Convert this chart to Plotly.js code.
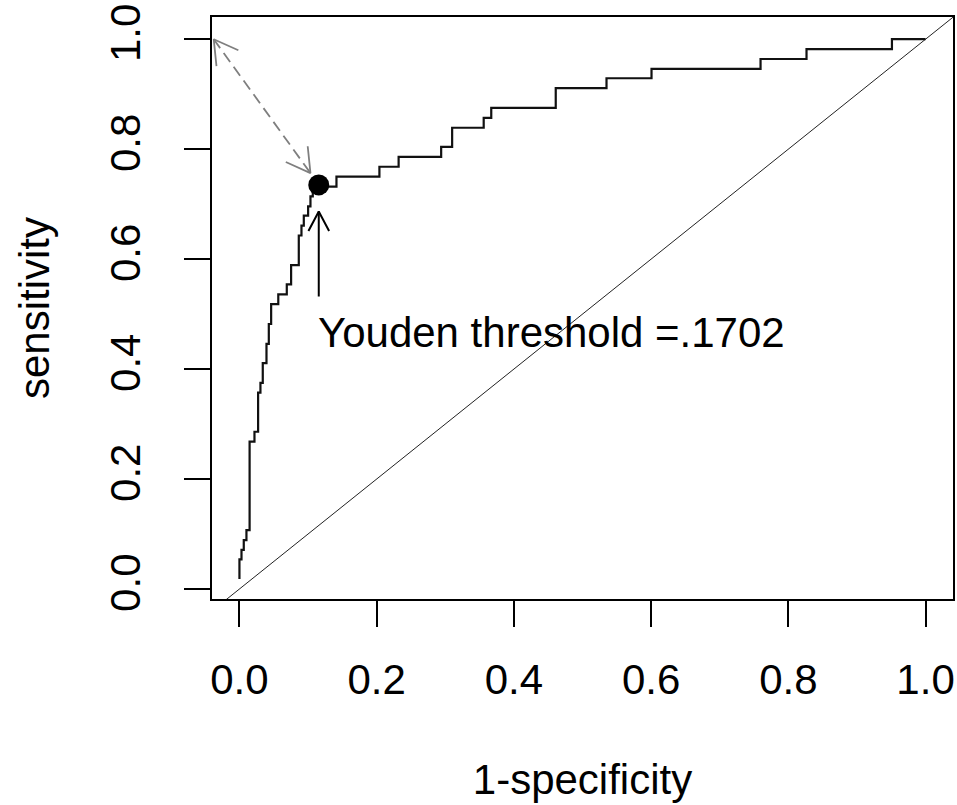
<!DOCTYPE html>
<html>
<head>
<meta charset="utf-8">
<script src="https://cdn.plot.ly/plotly-3.0.1.min.js"></script>
<style>
  html, body { margin: 0; padding: 0; background: #fff; }
  #chart { width: 957px; height: 805px; }
</style>
</head>
<body>
<div id="chart"></div>
<script>
// ---- data ----
// ROC staircase vertices (1-specificity, sensitivity), drawn with 'hv' steps
const rocFpr  = [0.000, 0.000, 0.003, 0.0063, 0.0102, 0.0148, 0.0219, 0.0272, 0.0306, 0.034, 0.0394, 0.0428, 0.0462, 0.0566, 0.069, 0.0753, 0.0865, 0.0904, 0.0938, 0.1001, 0.1035, 0.1069, 0.1414, 0.204, 0.232, 0.294, 0.310, 0.356, 0.367, 0.461, 0.535, 0.6006, 0.7595, 0.8265, 0.951, 1.000];
const rocSens = [0.018, 0.054, 0.071, 0.089, 0.107, 0.268, 0.286, 0.357, 0.375, 0.411, 0.446, 0.482, 0.518, 0.536, 0.554, 0.589, 0.643, 0.661, 0.679, 0.696, 0.714, 0.732, 0.750, 0.768, 0.786, 0.804, 0.839, 0.857, 0.875, 0.911, 0.929, 0.946, 0.964, 0.982, 1.000, 1.000];

// Youden optimal point
const youdenPoint = {fpr: 0.1156, sens: 0.735};
const youdenLabel = "Youden threshold =.1702";
const labelPos = {fpr: 0.112, sens: 0.466};

// arrows (tail -> tip)
const blackArrow = {from: [0.1156, 0.532], to: [0.1156, 0.6866]};
const grayArrow  = {from: [-0.0375, 1.000], to: [0.1035, 0.7565]};

// axes
const xRange = [-0.04, 1.04];
const yRange = [-0.0182, 1.0404];
const tickVals = [0, 0.2, 0.4, 0.6, 0.8, 1.0];
const tickText = ["0.0", "0.2", "0.4", "0.6", "0.8", "1.0"];
const xTitle = "1-specificity";
const yTitle = "sensitivity";

// ---- layout geometry ----
const W = 957, H = 805;
const margin = {l: 212, r: 4, t: 17, b: 206};
const plotW = W - margin.l - margin.r;
const plotH = H - margin.t - margin.b;
const pxX = plotW / (xRange[1] - xRange[0]);
const pxY = plotH / (yRange[1] - yRange[0]);

// open V arrow head at tip, pointing away from tail
function arrowHead(tail, tip, lenPx, angDeg) {
  let dx = (tail[0] - tip[0]) * pxX;
  let dy = -(tail[1] - tip[1]) * pxY;
  const n = Math.hypot(dx, dy);
  dx /= n; dy /= n;
  const a = angDeg * Math.PI / 180;
  const pts = [];
  [a, -a].forEach(function (t) {
    const vx = (dx * Math.cos(t) - dy * Math.sin(t)) * lenPx;
    const vy = (dx * Math.sin(t) + dy * Math.cos(t)) * lenPx;
    pts.push([tip[0] + vx / pxX, tip[1] - vy / pxY]);
  });
  return {x: [pts[0][0], tip[0], pts[1][0]], y: [pts[0][1], tip[1], pts[1][1]]};
}

const fontFam = "Liberation Sans, Arial, Helvetica, sans-serif";
const traces = [];

// diagonal reference line (clipped to plot area)
traces.push({
  x: [xRange[0] - 0.1, xRange[1] + 0.1], y: [xRange[0] - 0.1, xRange[1] + 0.1],
  mode: "lines", line: {color: "#222", width: 1}, hoverinfo: "skip", showlegend: false
});

// ROC curve
traces.push({
  x: rocFpr, y: rocSens, mode: "lines",
  line: {color: "#111", width: 2.2, shape: "hv"}, hoverinfo: "skip", showlegend: false
});

// gray dashed double arrow
traces.push({
  x: [grayArrow.from[0], grayArrow.to[0]], y: [grayArrow.from[1], grayArrow.to[1]],
  mode: "lines", line: {color: "#7f7f7f", width: 1.8, dash: "11px,6px"},
  hoverinfo: "skip", showlegend: false
});
[[grayArrow.from, grayArrow.to], [grayArrow.to, grayArrow.from]].forEach(function (p) {
  const h = arrowHead(p[0], p[1], 27, 30);
  traces.push({x: h.x, y: h.y, mode: "lines", line: {color: "#7f7f7f", width: 1.8},
    hoverinfo: "skip", showlegend: false});
});

// black arrow
traces.push({
  x: [blackArrow.from[0], blackArrow.to[0]], y: [blackArrow.from[1], blackArrow.to[1]],
  mode: "lines", line: {color: "#000", width: 2}, hoverinfo: "skip", showlegend: false
});
(function () {
  const h = arrowHead(blackArrow.from, blackArrow.to, 22, 28);
  traces.push({x: h.x, y: h.y, mode: "lines", line: {color: "#000", width: 2},
    hoverinfo: "skip", showlegend: false});
})();

// Youden point
traces.push({
  x: [youdenPoint.fpr], y: [youdenPoint.sens], mode: "markers",
  marker: {color: "#000", size: 21, line: {width: 0}}, hoverinfo: "skip", showlegend: false
});

const axisCommon = {
  showgrid: false, zeroline: false, showline: true, mirror: true,
  linecolor: "#000", linewidth: 2, ticks: "outside", ticklen: 26, tickwidth: 2,
  tickcolor: "#000", tickmode: "array", tickvals: tickVals, ticktext: tickText,
  tickfont: {family: fontFam, size: 42, color: "#000"}, fixedrange: true
};

const layout = {
  width: W, height: H, margin: margin,
  paper_bgcolor: "#fff", plot_bgcolor: "#fff",
  showlegend: false,
  xaxis: Object.assign({}, axisCommon, {
    range: xRange,
    ticklabelstandoff: 17,
    title: {text: xTitle, font: {family: fontFam, size: 42, color: "#000"}, standoff: 62}
  }),
  yaxis: Object.assign({}, axisCommon, {
    range: yRange, tickangle: -90,
    ticklabelstandoff: 27,
    title: {text: yTitle, font: {family: fontFam, size: 42, color: "#000"}, standoff: 40}
  }),
  annotations: [{
    x: labelPos.fpr, y: labelPos.sens, xref: "x", yref: "y",
    text: youdenLabel, showarrow: false, xanchor: "left", yanchor: "middle",
    font: {family: fontFam, size: 42, color: "#000"}
  }]
};

Plotly.newPlot("chart", traces, layout, {displayModeBar: false, staticPlot: true});
</script>
</body>
</html>
